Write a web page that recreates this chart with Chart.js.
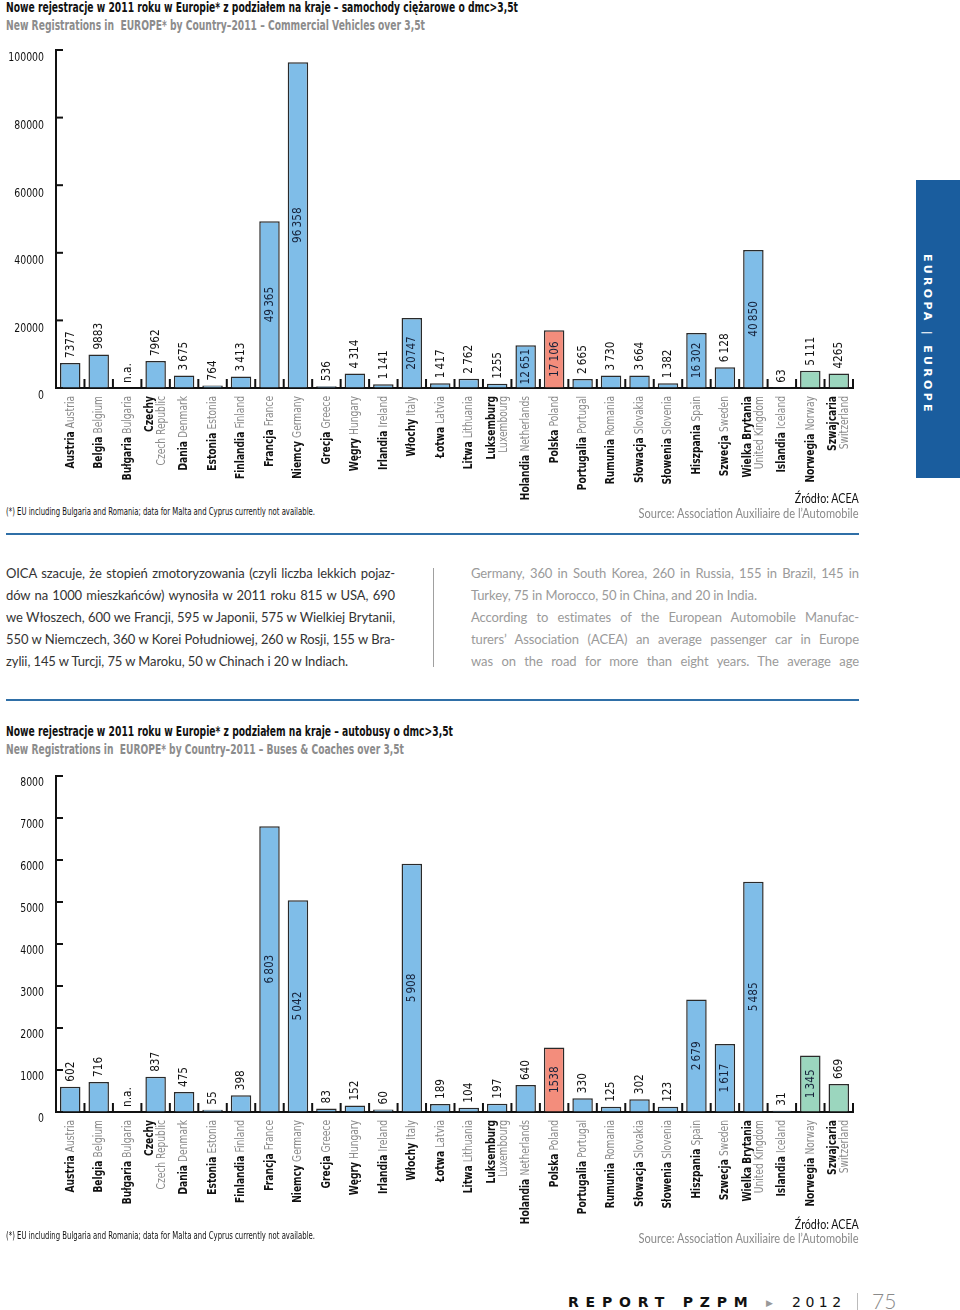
<!DOCTYPE html>
<html>
<head>
<meta charset="utf-8">
<script src="https://cdn.jsdelivr.net/npm/chart.js@4.4.1/dist/chart.umd.min.js"></script>
<style>
  body { margin: 0; width: 960px; height: 1310px; position: relative; background: #fff; overflow: hidden; font-family: Lato, sans-serif; }
  .abs { position: absolute; white-space: nowrap; }
  .narrow { font-family: "Liberation Sans Narrow", "DejaVu Sans Condensed", sans-serif; }
  .title { font-weight: bold; font-size: 14px; color: #111; }
  .sub { font-weight: bold; font-size: 14px; color: #8c8c8c; }
  .note { font-size: 10.5px; color: #111; }
  .src1 { right: 101px; font-size: 13px; color: #111; }
  .src2 { right: 101px; font-size: 12.5px; color: #8a8a8a; }
  .rule { position: absolute; left: 6px; width: 853px; height: 2px; background: #2f6fa7; }
  .line { position: absolute; height: 22px; line-height: 22px; font-size: 13px; letter-spacing: -0.1px; white-space: nowrap; text-align: justify; text-align-last: justify; }
  .line.last { text-align-last: left; }
  .left { left: 6px; width: 389px; color: #333; }
  .right { left: 471px; width: 388px; color: #9a9a9a; }
  .chartbox { position: absolute; left: 0; }
</style>
</head>
<body>

<div class="abs narrow title" data-w="512" style="left:6px;top:-1px;">Nowe rejestracje w 2011 roku w Europie* z podziałem na kraje – samochody ciężarowe o dmc&gt;3,5t</div>
<div class="abs narrow sub" data-w="419" style="left:6px;top:17px;">New Registrations in&nbsp; EUROPE* by Country–2011 – Commercial Vehicles over 3,5t</div>

<div class="chartbox" style="top:40px;width:870px;height:460px;"><canvas id="trucks" width="870" height="460"></canvas></div>

<div class="abs narrow note" data-w="309" style="left:6px;top:505px;">(*) EU including Bulgaria and Romania; data for Malta and Cyprus currently not available.</div>
<div class="abs src1" data-w="64" data-o="right" style="top:490px;">Źródło: ACEA</div>
<div class="abs src2" data-w="220" data-o="right" style="top:506px;">Source: Association Auxiliaire de l’Automobile</div>

<div class="rule" style="top:533px;"></div>

<div class="line left" style="top:562px;">OICA szacuje, że stopień zmotoryzowania (czyli liczba lekkich pojaz-</div>
<div class="line left" style="top:584px;">dów na 1000 mieszkańców) wynosiła w 2011 roku 815 w USA, 690</div>
<div class="line left" style="top:606px;">we Włoszech, 600 we Francji, 595 w Japonii, 575 w Wielkiej Brytanii,</div>
<div class="line left" style="top:628px;">550 w Niemczech, 360 w Korei Południowej, 260 w Rosji, 155 w Bra-</div>
<div class="line left last" style="top:650px;">zylii, 145 w Turcji, 75 w Maroku, 50 w Chinach i 20 w Indiach.</div>

<div style="position:absolute;left:433px;top:568px;width:1px;height:99px;background:#a0a0a0;"></div>

<div class="line right" style="top:562px;">Germany, 360 in South Korea, 260 in Russia, 155 in Brazil, 145 in</div>
<div class="line right last" style="top:584px;">Turkey, 75 in Morocco, 50 in China, and 20 in India.</div>
<div class="line right" style="top:606px;">According to estimates of the European Automobile Manufac-</div>
<div class="line right" style="top:628px;">turers’ Association (ACEA) an average passenger car in Europe</div>
<div class="line right" style="top:650px;">was on the road for more than eight years. The average age</div>

<div class="rule" style="top:699px;"></div>

<div class="abs narrow title" data-w="447" style="left:6px;top:723px;">Nowe rejestracje w 2011 roku w Europie* z podziałem na kraje – autobusy o dmc&gt;3,5t</div>
<div class="abs narrow sub" data-w="398" style="left:6px;top:741px;">New Registrations in&nbsp; EUROPE* by Country–2011 – Buses &amp; Coaches over 3,5t</div>

<div class="chartbox" style="top:765px;width:870px;height:475px;"><canvas id="buses" width="870" height="475"></canvas></div>

<div class="abs narrow note" data-w="309" style="left:6px;top:1229px;">(*) EU including Bulgaria and Romania; data for Malta and Cyprus currently not available.</div>
<div class="abs src1" data-w="64" data-o="right" style="top:1216px;">Źródło: ACEA</div>
<div class="abs src2" data-w="220" data-o="right" style="top:1231px;">Source: Association Auxiliaire de l’Automobile</div>

<div style="position:absolute;left:916px;top:180px;width:44px;height:298px;background:#1a5d9e;"></div>
<div class="abs" style="left:921px;top:254px;writing-mode:vertical-rl;color:#fff;font-weight:bold;font-size:11px;letter-spacing:3.3px;font-family:'DejaVu Sans',sans-serif;">EUROPA | EUROPE</div>

<div class="abs" style="left:568px;top:1294px;font-family:'DejaVu Sans',sans-serif;font-weight:bold;font-size:14px;letter-spacing:6.8px;color:#111;">REPORT PZPM</div>
<div class="abs" style="left:766px;top:1297px;font-size:9px;color:#999;">▶</div>
<div class="abs" style="left:792px;top:1294px;font-family:'DejaVu Sans',sans-serif;font-size:14px;letter-spacing:4.5px;color:#111;">2012</div>
<div style="position:absolute;left:857px;top:1293px;width:1px;height:17px;background:#bbb;"></div>
<div class="abs" style="left:872px;top:1288px;font-size:21px;color:#8a8a8a;font-weight:300;">75</div>

<script>
// countries, Polish + English names
const plNames = ['Austria', 'Belgia', 'Bułgaria', 'Czechy', 'Dania', 'Estonia', 'Finlandia', 'Francja', 'Niemcy',
  'Grecja', 'Węgry', 'Irlandia', 'Włochy', 'Łotwa', 'Litwa', 'Luksemburg', 'Holandia', 'Polska', 'Portugalia',
  'Rumunia', 'Słowacja', 'Słowenia', 'Hiszpania', 'Szwecja', 'Wielka Brytania', 'Islandia', 'Norwegia', 'Szwajcaria'];
const enNames = ['Austria', 'Belgium', 'Bulgaria', 'Czech Republic', 'Denmark', 'Estonia', 'Finland', 'France', 'Germany',
  'Greece', 'Hungary', 'Ireland', 'Italy', 'Latvia', 'Lithuania', 'Luxembourg', 'Netherlands', 'Poland', 'Portugal',
  'Romania', 'Slovakia', 'Slovenia', 'Spain', 'Sweden', 'United Kingdom', 'Iceland', 'Norway', 'Switzerland'];
const twoLineNames = ['Czechy', 'Luksemburg', 'Wielka Brytania', 'Szwajcaria'];

// commercial vehicles over 3,5t (null = n.a.)
const truckValues = [7377, 9883, null, 7962, 3675, 764, 3413, 49365, 96358, 536, 4314, 1141, 20747, 1417, 2762, 1255,
  12651, 17106, 2665, 3730, 3664, 1382, 16302, 6128, 40850, 63, 5111, 4265];
const truckText = ['7377', '9883', 'n.a.', '7962', '3\u2009675', '764', '3\u2009413', '49\u2009365', '96\u2009358', '536',
  '4\u2009314', '1\u2009141', '20747', '1\u2009417', '2\u2009762', '1255', '12\u2009651', '17\u2009106', '2\u2009665',
  '3\u2009730', '3\u2009664', '1\u2009382', '16\u2009302', '6\u2009128', '40\u2009850', '63', '5\u2009111', '4265'];
const truckTicks = [0, 20000, 40000, 60000, 80000, 100000];

// buses & coaches over 3,5t
const busValues = [602, 716, null, 837, 475, 55, 398, 6803, 5042, 83, 152, 60, 5908, 189, 104, 197,
  640, 1538, 330, 125, 302, 123, 2679, 1617, 5485, 31, 1345, 669];
const busText = ['602', '716', 'n.a.', '837', '475', '55', '398', '6\u2009803', '5\u2009042', '83', '152', '60', '5\u2009908',
  '189', '104', '197', '640', '1538', '330', '125', '302', '123', '2\u2009679', '1\u2009617', '5\u2009485', '31', '1\u2009345', '669'];
const busTicks = [0, 1000, 2000, 3000, 4000, 5000, 6000, 7000, 8000];

const NARROW = '"Liberation Sans Narrow", "DejaVu Sans Condensed", sans-serif';
const BLUE = '#7fbde8', SALMON = '#f38d7c', MINT = '#9bd6be';

// squeeze the html headings to the width they have in the print
document.querySelectorAll('[data-w]').forEach(el => {
  const w = el.getBoundingClientRect().width;
  el.style.transformOrigin = el.dataset.o === 'right' ? 'right top' : 'left top';
  el.style.transform = 'scaleX(' + (el.dataset.w / w) + ')';
});

function barColor(name) {
  if (name === 'Polska') return SALMON;
  if (name === 'Norwegia' || name === 'Szwajcaria') return MINT;
  return BLUE;
}

// axis ticks, tick labels, value labels and two-colour country names
const marksPlugin = {
  id: 'marks',
  afterDatasetsDraw(chart, args, opts) {
    const ctx = chart.ctx, area = chart.chartArea;
    const xs = chart.scales.x, ys = chart.scales.y;
    const vals = chart.data.datasets[0].data;
    const base = ys.getPixelForValue(0);
    ctx.save();
    ctx.strokeStyle = '#111';
    ctx.lineWidth = 2;
    ys.ticks.forEach(t => {
      const py = ys.getPixelForValue(t.value);
      ctx.beginPath(); ctx.moveTo(area.left, py); ctx.lineTo(area.left + 7, py); ctx.stroke();
      ctx.save();
      ctx.font = '13px ' + NARROW;
      ctx.fillStyle = '#111';
      ctx.textAlign = 'right';
      ctx.textBaseline = 'middle';
      ctx.translate(area.left - 12, py + opts.labelOffset);
      ctx.scale(0.8, 1);
      ctx.fillText(String(t.value), 0, 0);
      ctx.restore();
    });
    for (let i = 1; i <= vals.length; i++) {
      const px = xs.getPixelForValue(i - 0.5);
      ctx.beginPath(); ctx.moveTo(px, base + 1); ctx.lineTo(px, base - 9); ctx.stroke();
    }

    ctx.textBaseline = 'middle';
    vals.forEach((v, i) => {
      const cx = xs.getPixelForValue(i);
      const top = v == null ? base : ys.getPixelForValue(v);
      const h = base - top;
      ctx.save();
      ctx.font = '13px ' + NARROW;
      if (h >= 40) {
        ctx.translate(cx, (top + base) / 2);
        ctx.rotate(-Math.PI / 2);
        ctx.textAlign = 'center';
        ctx.fillStyle = '#16223a';
      } else {
        ctx.translate(cx, top - 5);
        ctx.rotate(-Math.PI / 2);
        ctx.textAlign = 'left';
        ctx.fillStyle = '#111';
      }
      ctx.scale(0.9, 1);
      ctx.fillText(opts.text[i], 0, 0);
      ctx.restore();
    });

    plNames.forEach((pl, i) => {
      const cx = xs.getPixelForValue(i);
      const en = enNames[i];
      ctx.save();
      ctx.translate(cx, base + 8);
      ctx.rotate(-Math.PI / 2);
      ctx.scale(0.78, 1);
      ctx.textAlign = 'right';
      if (twoLineNames.includes(pl)) {
        ctx.font = 'bold 13px ' + NARROW; ctx.fillStyle = '#111';
        ctx.fillText(pl, 0, -6);
        ctx.font = '13px ' + NARROW; ctx.fillStyle = '#8a8a8a';
        ctx.fillText(en, 0, 6);
      } else {
        ctx.font = '13px ' + NARROW; ctx.fillStyle = '#8a8a8a';
        ctx.fillText(en, 0, 0);
        const w = ctx.measureText(en).width;
        ctx.font = 'bold 13px ' + NARROW; ctx.fillStyle = '#111';
        ctx.fillText(pl, -(w + 4), 0);
      }
      ctx.restore();
    });
    ctx.restore();
  }
};

function makeChart(id, values, text, ticks, padTop, xHeight, labelOffset) {
  return new Chart(document.getElementById(id).getContext('2d'), {
    type: 'bar',
    data: {
      labels: plNames,
      datasets: [{
        data: values,
        backgroundColor: plNames.map(barColor),
        borderColor: '#2a2a2a',
        borderWidth: 1.5,
        borderSkipped: 'bottom',
        barPercentage: 0.72,
        categoryPercentage: 1
      }]
    },
    options: {
      responsive: false,
      animation: false,
      layout: { padding: { top: padTop, right: 17, left: 0, bottom: 0 } },
      plugins: { legend: { display: false }, tooltip: { enabled: false }, marks: { text: text, labelOffset: labelOffset } },
      scales: {
        x: {
          grid: { display: false, drawTicks: false },
          border: { display: true, color: '#111', width: 2 },
          ticks: { display: false },
          afterFit(s) { s.height = xHeight; }
        },
        y: {
          min: ticks[0],
          max: ticks[ticks.length - 1],
          afterBuildTicks(s) { s.ticks = ticks.map(v => ({ value: v })); },
          ticks: { display: false },
          grid: { drawOnChartArea: false, drawTicks: false },
          border: { display: true, color: '#111', width: 2 },
          afterFit(s) { s.width = 56; }
        }
      }
    },
    plugins: [marksPlugin]
  });
}

makeChart('trucks', truckValues, truckText, truckTicks, 10, 112, 8);
makeChart('buses', busValues, busText, busTicks, 11, 128, 7);
</script>
</body>
</html>
